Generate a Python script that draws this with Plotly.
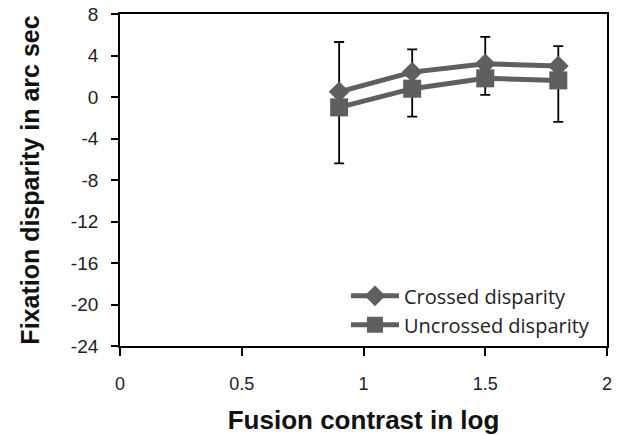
import plotly.graph_objects as go

x_vals = [0.9, 1.2, 1.5, 1.8]
crossed = [0.5, 2.4, 3.2, 3.0]
crossed_err_plus = [4.8, 2.2, 2.6, 1.9]
uncrossed = [-1.0, 0.8, 1.8, 1.6]
uncrossed_err_minus = [5.4, 2.7, 1.6, 4.0]

x_ticks = [0, 0.5, 1, 1.5, 2]
x_tick_text = ["0", "0.5", "1", "1.5", "2"]
y_ticks = [8, 4, 0, -4, -8, -12, -16, -20, -24]
y_tick_text = ["8", "4", "0", "-4", "-8", "-12", "-16", "-20", "-24"]

gray = "#5f5f5f"
fig = go.Figure()
fig.add_trace(go.Scatter(
    x=x_vals, y=crossed, name="Crossed disparity", mode="lines+markers",
    line=dict(color=gray, width=5),
    marker=dict(symbol="diamond", size=16, color=gray),
    error_y=dict(type="data", symmetric=False, array=crossed_err_plus,
                 arrayminus=[0]*4, color="black", thickness=1.8, width=5),
))
fig.add_trace(go.Scatter(
    x=x_vals, y=uncrossed, name="Uncrossed disparity", mode="lines+markers",
    line=dict(color=gray, width=5),
    marker=dict(symbol="square", size=18, color=gray),
    error_y=dict(type="data", symmetric=False, array=[0]*4,
                 arrayminus=uncrossed_err_minus, color="black", thickness=1.8, width=5),
))

fig.update_layout(
    template="none",
    width=623, height=435,
    margin=dict(l=120, r=16, t=14, b=89, autoexpand=False),
    paper_bgcolor="white", plot_bgcolor="white",
    font=dict(family="Liberation Sans, sans-serif", color="#222"),
    showlegend=True,
    legend=dict(x=0.464, y=0.21, xanchor="left", yanchor="top",
                bgcolor="rgba(0,0,0,0)",
                font=dict(size=20, family="Open Sans, sans-serif", color="#222"),
                tracegroupgap=0, itemsizing="trace", itemwidth=48, borderwidth=0),
    xaxis=dict(range=[0, 2], tickvals=x_ticks, ticktext=x_tick_text, automargin=False,
               showgrid=False, zeroline=False, showline=True, mirror=True,
               linecolor="black", linewidth=1.8, ticks="outside", ticklen=8,
               tickcolor="black", tickwidth=1.8, ticklabelstandoff=12,
               ticklabeloverflow="allow",
               tickfont=dict(size=18, family="Liberation Sans, sans-serif", color="#222"),
               title=dict(text="<b>Fusion contrast in log</b>",
                          font=dict(size=26, family="Liberation Sans, sans-serif", color="#111"),
                          standoff=18)),
    yaxis=dict(range=[-24, 8], tickvals=y_ticks, ticktext=y_tick_text, automargin=False,
               showgrid=False, zeroline=False, showline=True, mirror=True,
               linecolor="black", linewidth=1.8, ticks="outside", ticklen=7,
               tickcolor="black", tickwidth=1.8, ticklabelstandoff=9,
               ticklabeloverflow="allow",
               tickfont=dict(size=19, family="Liberation Sans, sans-serif", color="#222"),
               title=dict(text="<b>Fixation disparity in arc sec</b>",
                          font=dict(size=25, family="Liberation Sans, sans-serif", color="#111"),
                          standoff=24)),
)

fig.write_html("out.html", config={"displayModeBar": False},
               post_script="document.body.style.margin='0';")
